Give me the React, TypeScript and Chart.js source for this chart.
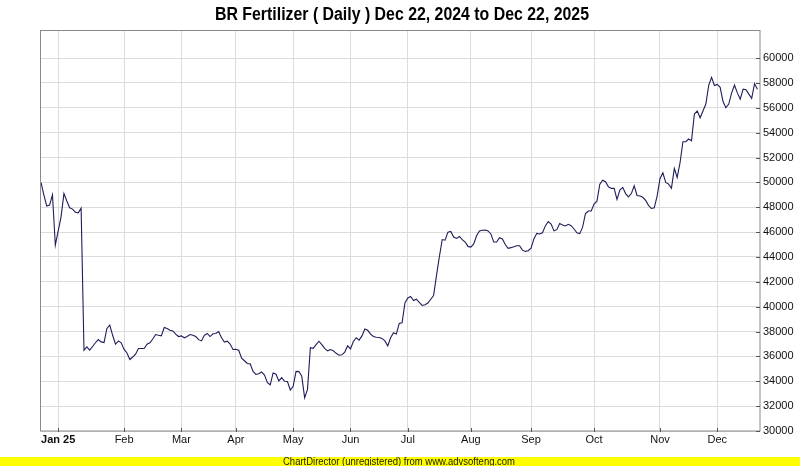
import React, { useEffect, useRef } from "react";
import { Chart, registerables } from "chart.js";

Chart.register(...registerables);

const TITLE = "BR Fertilizer ( Daily ) Dec 22, 2024 to Dec 22, 2025";
const FOOTER = "ChartDirector (unregistered) from www.advsofteng.com";

// Daily closing values, one per trading day (index 0 = Dec 23, 2024)
const prices: number[] = [
  50000, 49000, 48100, 48170, 49000, 44950, 46100, 47230, 49100, 48500,
  47960, 47850, 47600, 47550, 47930, 36500, 36770, 36500, 36800, 37100,
  37360, 37170, 37120, 38250, 38510, 37700, 36980, 37250, 37090, 36560,
  36280, 35750, 35950, 36180, 36640, 36640, 36640, 36980, 37090, 37400,
  37760, 37700, 37650, 38330, 38250, 38110, 38050, 37800, 37600, 37650,
  37500, 37600, 37760, 37700, 37600, 37350, 37250, 37700, 37850, 37600,
  37820, 37850, 38000, 37500, 37150, 37230, 37000, 36560, 36580, 36500,
  35850, 35650, 35430, 35400, 34800, 34550, 34600, 34750, 34500, 33880,
  33720, 34670, 34570, 34030, 34300, 34000, 33980, 33300, 33600, 34800,
  34780, 34400, 32660, 33350, 36700, 36650, 36950, 37220, 36950, 36650,
  36450, 36550, 36450, 36250, 36100, 36130, 36350, 36850, 36600, 37200,
  37500, 37310, 37650, 38200, 38100, 37800, 37600, 37540, 37520, 37450,
  37250, 36850, 37500, 37900, 37800, 38650, 38700, 40300, 40700, 40820,
  40500, 40600, 40350, 40100, 40150, 40300, 40600, 40900, 42500, 44000,
  45400, 45350, 46000, 46050, 45600, 45490, 45650, 45400, 45200, 44850,
  44800, 45050, 45700, 46100, 46150, 46170, 46100, 45850, 45200, 45200,
  45550, 45450, 45000, 44700, 44750, 44820, 44900, 44900, 44550, 44450,
  44500, 44700, 45450, 45900, 45850, 45950, 46500, 46850, 46650, 46100,
  46200, 46700, 46580, 46500, 46630, 46520, 46250, 45950, 45880, 46400,
  47500, 47700, 47700, 48250, 48490, 49860, 50180, 50060, 49650, 49520,
  49520, 48630, 49380, 49600, 49100, 48840, 49100, 49730, 48950, 48900,
  48800, 48550, 48150, 47900, 47950, 48900, 50300, 50770, 50000, 49860,
  49520, 51130, 50400, 51580, 53270, 53270, 53490, 53350, 55500, 55740,
  55200, 55750, 56300, 57800, 58450, 57800, 57880, 57650, 56500, 56000,
  56300, 57200, 57820, 57200, 56700, 57500, 57450, 57100, 56760, 57950,
  57490,
];

// Trading-day index of the first session of each month
const monthTickIndex: number[] = [6, 29, 49, 68, 88, 108, 128, 150, 171, 193, 216, 236];
const monthLabels: string[] = ["Jan 25", "Feb", "Mar", "Apr", "May", "Jun", "Jul", "Aug", "Sep", "Oct", "Nov", "Dec"];
const yTickValues: number[] = [
  30000, 32000, 34000, 36000, 38000, 40000, 42000, 44000,
  46000, 48000, 50000, 52000, 54000, 56000, 58000, 60000,
];

const FONT = "'Liberation Sans', Arial, Helvetica, sans-serif";

const decorPlugin = {
  id: "decor",
  afterDraw(chart: any) {
    const { ctx, chartArea: a, scales } = chart;
    ctx.save();
    // plot border
    ctx.strokeStyle = "#8a8a8a";
    ctx.lineWidth = 1;
    ctx.strokeRect(Math.round(a.left) - 0.5, Math.round(a.top) + 0.5, Math.round(a.right - a.left) + 0.5, Math.round(a.bottom - a.top) - 0.5);
    // inward tick marks
    ctx.strokeStyle = "#555555";
    ctx.beginPath();
    scales.y.ticks.forEach((t: any) => {
      const py = Math.round(scales.y.getPixelForValue(t.value)) + 0.5;
      ctx.moveTo(a.right - 4, py);
      ctx.lineTo(a.right, py);
    });
    scales.x.ticks.forEach((t: any) => {
      const px = Math.round(scales.x.getPixelForValue(t.value)) + 0.5;
      ctx.moveTo(px, a.bottom - 3);
      ctx.lineTo(px, a.bottom + 1);
    });
    ctx.stroke();

    // title
    ctx.fillStyle = "#000000";
    ctx.font = `bold 18px ${FONT}`;
    ctx.textBaseline = "alphabetic";
    ctx.textAlign = "left";
    const tw = ctx.measureText(TITLE).width;
    const targetW = 374;
    const sx = targetW / tw;
    ctx.save();
    ctx.translate(402 - targetW / 2, 19.5);
    ctx.scale(sx, 1);
    ctx.fillText(TITLE, 0, 0);
    ctx.restore();

    // footer bar
    const W = chart.width;
    const H = chart.height;
    ctx.fillStyle = "#ffff00";
    ctx.fillRect(0, 457, W, H - 457);
    ctx.fillStyle = "#202000";
    ctx.font = `10px ${FONT}`;
    const fw = ctx.measureText(FOOTER).width;
    const ftarget = 232;
    ctx.save();
    ctx.translate(399 - ftarget / 2, 465);
    ctx.scale(ftarget / fw, 1);
    ctx.fillText(FOOTER, 0, 0);
    ctx.restore();

    ctx.restore();
  },
};

export default function App() {
  const ref = useRef<HTMLCanvasElement | null>(null);

  useEffect(() => {
    document.body.style.margin = "0";
    const canvas = ref.current;
    if (!canvas) return;
    const chart = new Chart(canvas, {
      type: "line",
      data: {
        datasets: [
          {
            data: prices.map((v, i) => ({ x: i, y: v })),
            borderColor: "#1e1e5a",
            borderWidth: 1.1,
            pointRadius: 0,
            tension: 0,
            fill: false,
          },
        ],
      },
      options: {
        animation: false,
        responsive: false,
        devicePixelRatio: 1,
        layout: { padding: { left: 41, top: 30, right: 0, bottom: 0 } },
        plugins: {
          legend: { display: false },
          tooltip: { enabled: false },
          title: { display: false },
        },
        scales: {
          x: {
            type: "linear",
            min: 0,
            max: 250.9,
            afterBuildTicks: (s: any) => {
              s.ticks = monthTickIndex.map((v) => ({ value: v }));
            },
            afterFit: (s: any) => {
              s.height = 35;
            },
            ticks: {
              autoSkip: false,
              maxRotation: 0,
              padding: 2,
              color: "#111111",
              callback: (_v: any, i: number) => monthLabels[i],
              font: (c: any) => ({ family: FONT, size: 11, weight: c.index === 0 ? "bold" : "normal" }),
            },
            grid: { color: "#dcdcdc", drawTicks: false },
            border: { display: false },
          },
          y: {
            position: "right",
            min: 30000,
            max: 62260,
            afterBuildTicks: (s: any) => {
              s.ticks = yTickValues.map((v) => ({ value: v }));
            },
            afterFit: (s: any) => {
              s.width = 40;
            },
            ticks: {
              padding: 3,
              color: "#111111",
              callback: (v: any) => String(v),
              font: { family: FONT, size: 11 },
            },
            grid: { color: "#dcdcdc", drawTicks: false },
            border: { display: false },
          },
        },
      } as any,
      plugins: [decorPlugin],
    });
    return () => chart.destroy();
  }, []);

  return (
    <div style={{ width: 800, height: 466, background: "#ffffff" }}>
      <canvas ref={ref} width={800} height={466} style={{ display: "block" }} />
    </div>
  );
}
